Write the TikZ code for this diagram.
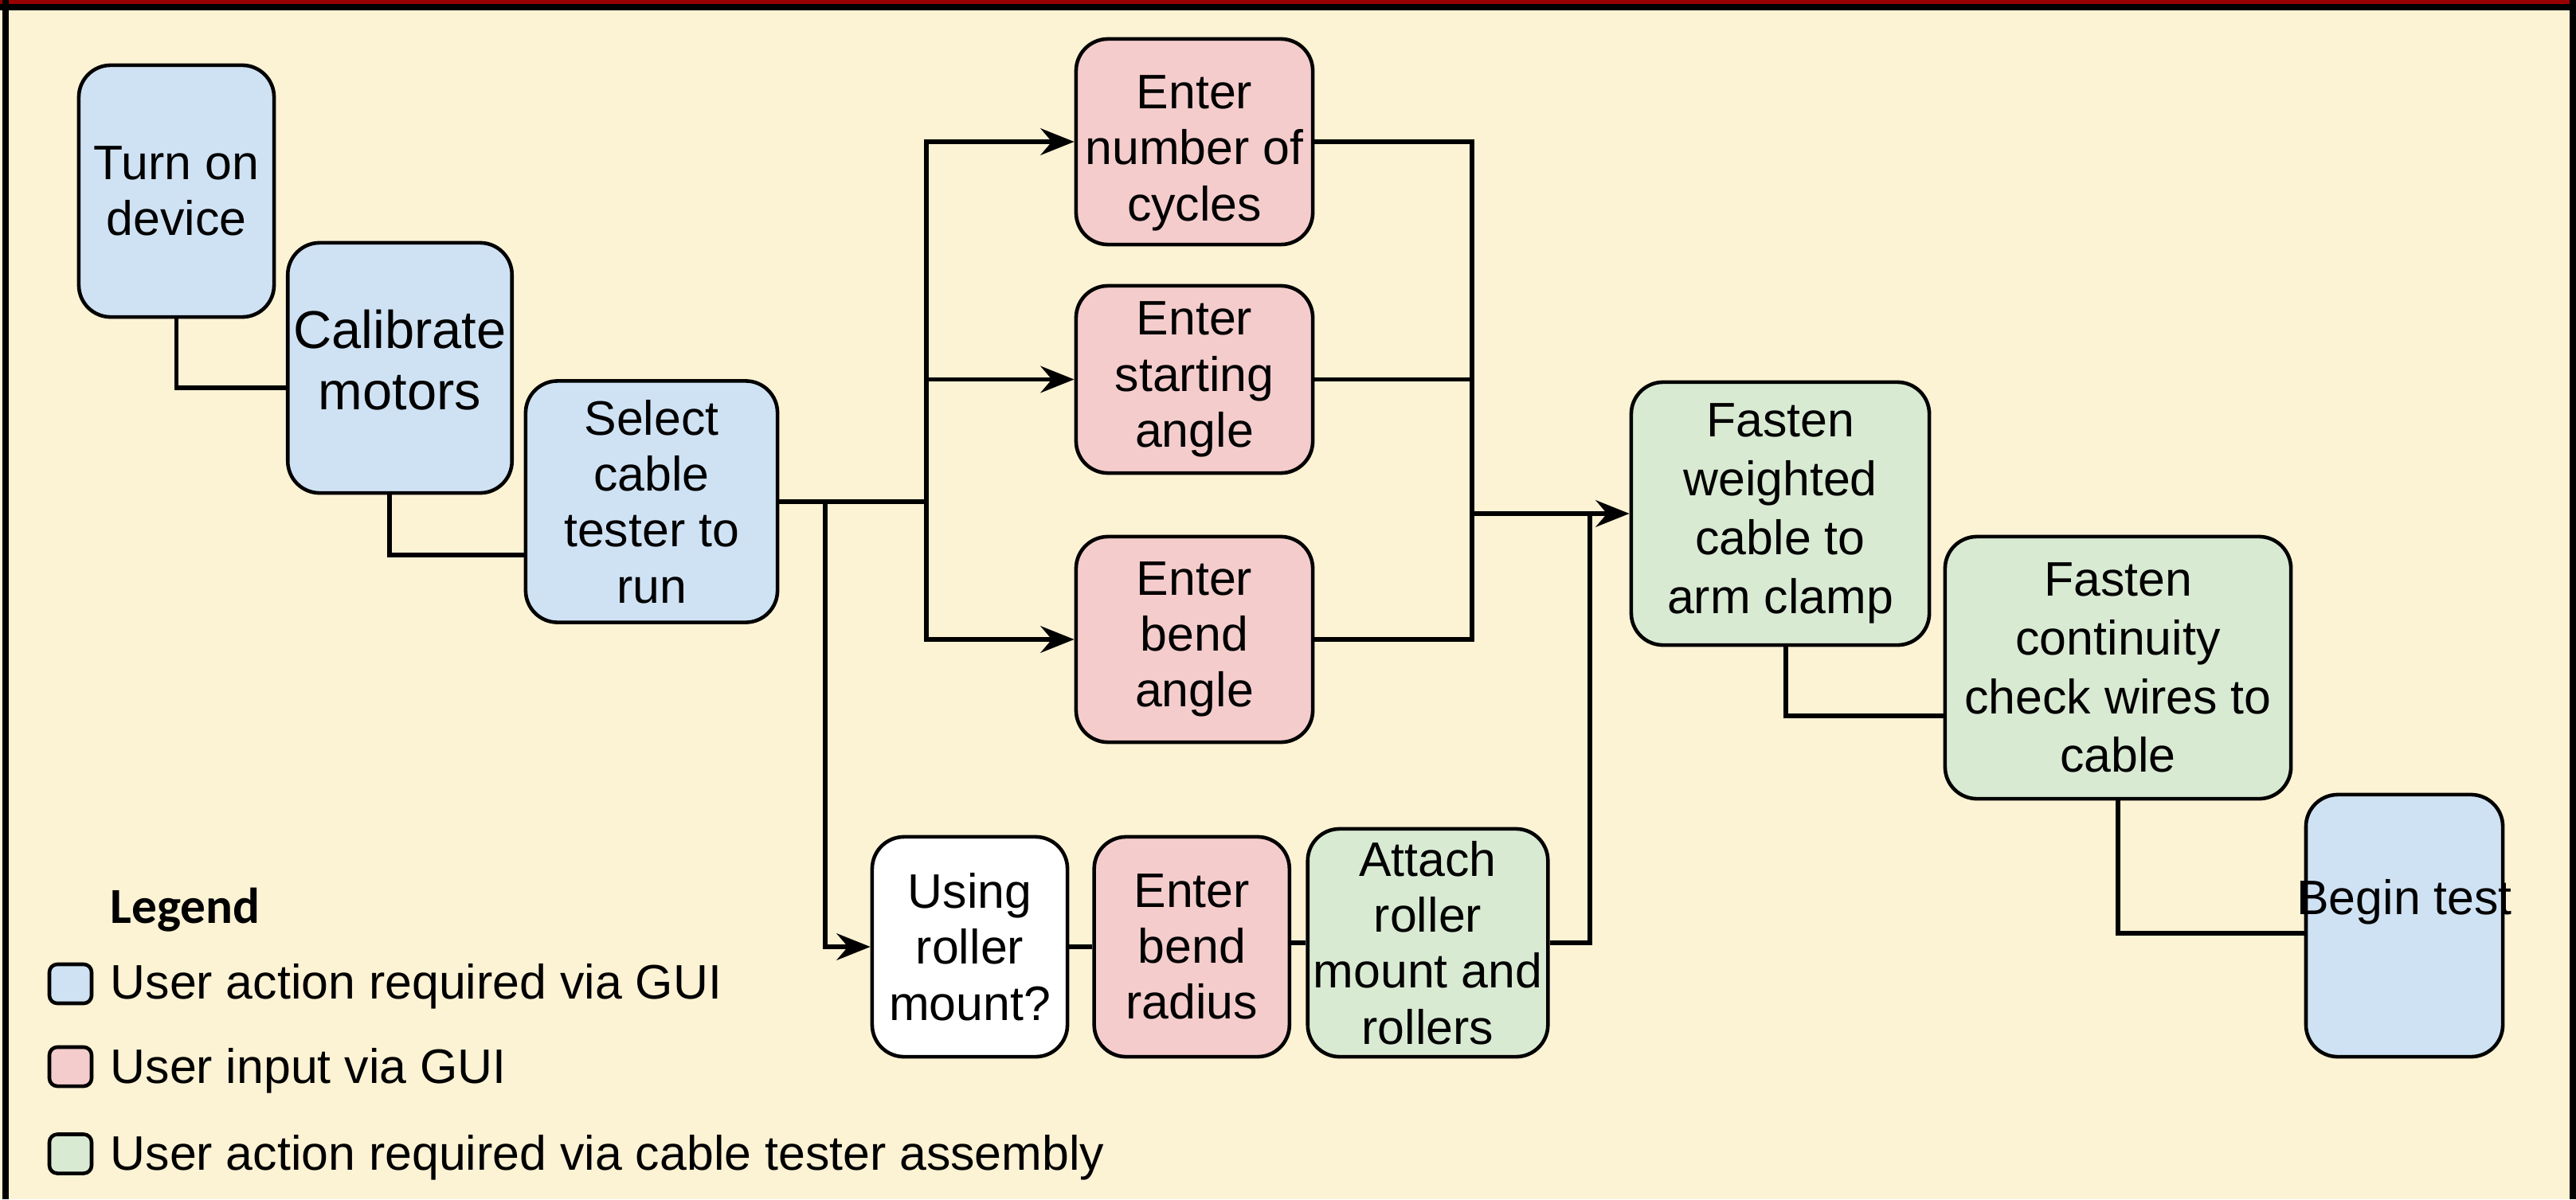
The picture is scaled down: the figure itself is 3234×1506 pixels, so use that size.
\documentclass[tikz,border=0pt]{standalone}
\usepackage{fontspec}
\setmainfont{Liberation Sans}
\newfontfamily\legendfont{Carlito}
\usetikzlibrary{arrows.meta}
\usetikzlibrary{positioning}
\definecolor{paper}{HTML}{FCF2D4}
\definecolor{bandred}{HTML}{990000}
\definecolor{guiblue}{HTML}{CFE2F3}
\definecolor{inputred}{HTML}{F4CCCC}
\definecolor{riggreen}{HTML}{D9EAD3}

\begin{document}
\begin{tikzpicture}[x=0.01cm,y=-0.01cm]
\tikzstyle{box}=[rectangle,draw=black,line width=1.3pt,rounded corners=0.4cm,
align=center,inner sep=2pt,font=\fontsize{17.3}{20}\selectfont]
\tikzstyle{gui}=[box,fill=guiblue]
\tikzstyle{input}=[box,fill=inputred]
\tikzstyle{rig}=[box,fill=riggreen]
\tikzstyle{ask}=[box,fill=white]
\tikzstyle{key}=[rectangle,draw=black,line width=1.3pt,rounded corners=0.1cm,
minimum width=0.53cm,minimum height=0.49cm,inner sep=0pt]
\tikzstyle{keytext}=[anchor=west,inner sep=0pt,font=\fontsize{17.3}{20}\selectfont]
\tikzstyle{flow}=[line width=1.7pt]
\tikzstyle{feed}=[flow,-{Stealth[length=12pt,width=9.5pt,inset=4pt]}]
\useasboundingbox (0,0) rectangle (3234,1506);
% frame
\fill[paper] (0,0) rectangle (3234,1506);
\fill[bandred] (0,0) rectangle (3234,5);
\fill[black] (0,5) rectangle (3234,13);
\fill[black] (3,0) rectangle (11,1506);
\fill[black] (3226,0) rectangle (3234,1506);
% steps
\node[gui,minimum width=2.45cm,minimum height=3.16cm] (turnon) at (221.5,240) {Turn on\\device};
\node[gui,minimum width=2.78cm,minimum height=3.14cm,text depth=0.2cm,font=\fontsize{19}{22}\selectfont] (calib) at (502,462) {Calibrate\\motors};
\node[gui,minimum width=3.16cm,minimum height=3.03cm] (select) at (818,630) {Select\\cable\\tester to\\run};
\node[input,minimum width=2.97cm,minimum height=2.58cm,text height=2.11cm] (cycles) at (1499.5,178) {Enter\\number of\\cycles};
\node[input,minimum width=2.97cm,minimum height=2.35cm] (start) at (1499.5,476.5) {Enter\\starting\\angle};
\node[input,minimum width=2.97cm,minimum height=2.58cm] (angle) at (1499.5,803) {Enter\\bend\\angle};
\node[ask,minimum width=2.45cm,minimum height=2.76cm] (using) at (1217.5,1189) {Using\\roller\\mount?};
\node[input,minimum width=2.45cm,minimum height=2.76cm] (radius) [right=0.29cm of using] {Enter\\bend\\radius};
\node[rig,minimum width=2.99cm,minimum height=2.86cm] (attach) at (1792.5,1184) {Attach\\roller\\mount and\\rollers};
\node[rig,minimum width=3.74cm,minimum height=3.30cm,font=\fontsize{17.3}{21}\selectfont] (weighted) at (2235,645) {Fasten\\weighted\\cable to\\arm clamp};
\node[rig,minimum width=4.34cm,minimum height=3.29cm,font=\fontsize{17.3}{21}\selectfont] (contin) at (2659,838.5) {Fasten\\continuity\\check wires to\\cable};
\node[gui,minimum width=2.47cm,minimum height=3.29cm,text depth=0.73cm] (begin) at (3018.5,1162.5) {\makebox[0pt]{Begin test}};
% joints
\coordinate (fork) at (1036,630);
\coordinate (split) at (1163,630);
\coordinate (merge) at (1848,645);
\coordinate (join) at (1996,645);
% connectors
\draw[flow] (turnon.south) |- ([yshift=-0.25cm]calib.west);
\draw[flow] ([xshift=-0.13cm]calib.south) |- ([yshift=-0.67cm]select.west);
\draw[flow] (select.east) -- (split);
\draw[feed] (split) |- (cycles.west);
\draw[feed] (split) |- (start.west);
\draw[feed] (split) |- (angle.west);
\draw[feed] (fork) |- (using.west);
\draw[flow] (using) -- (radius);
\draw[flow] (radius.east |- attach.west) -- (attach.west);
\draw[flow] (cycles.east) -| (merge);
\draw[flow] (start.east) -| (merge);
\draw[flow] (angle.east) -| (merge);
\draw[flow] (attach.east) -| (join);
\draw[feed] (merge) -- (weighted.west);
\draw[flow] ([xshift=0.07cm]weighted.south) |- ([yshift=-0.6cm]contin.west);
\draw[flow] (contin.south) |- ([yshift=-0.09cm]begin.west);
% legend
\node[anchor=base west,inner sep=0pt,font=\legendfont\bfseries\fontsize{18}{20}\selectfont] (legend) at (138,1159) {Legend};
\node[key,fill=guiblue] (keygui) at (88.5,1235.5) {};
\node[keytext] (keyguitext) at (138,1239) {User action required via GUI};
\node[key,fill=inputred] (keyinput) at (88.5,1339.5) {};
\node[keytext] (keyinputtext) at (138,1345) {User input via GUI};
\node[key,fill=riggreen] (keyrig) at (88.5,1449) {};
\node[keytext] (keyrigtext) at (138,1454) {User action required via cable tester assembly};
\end{tikzpicture}
\end{document}
